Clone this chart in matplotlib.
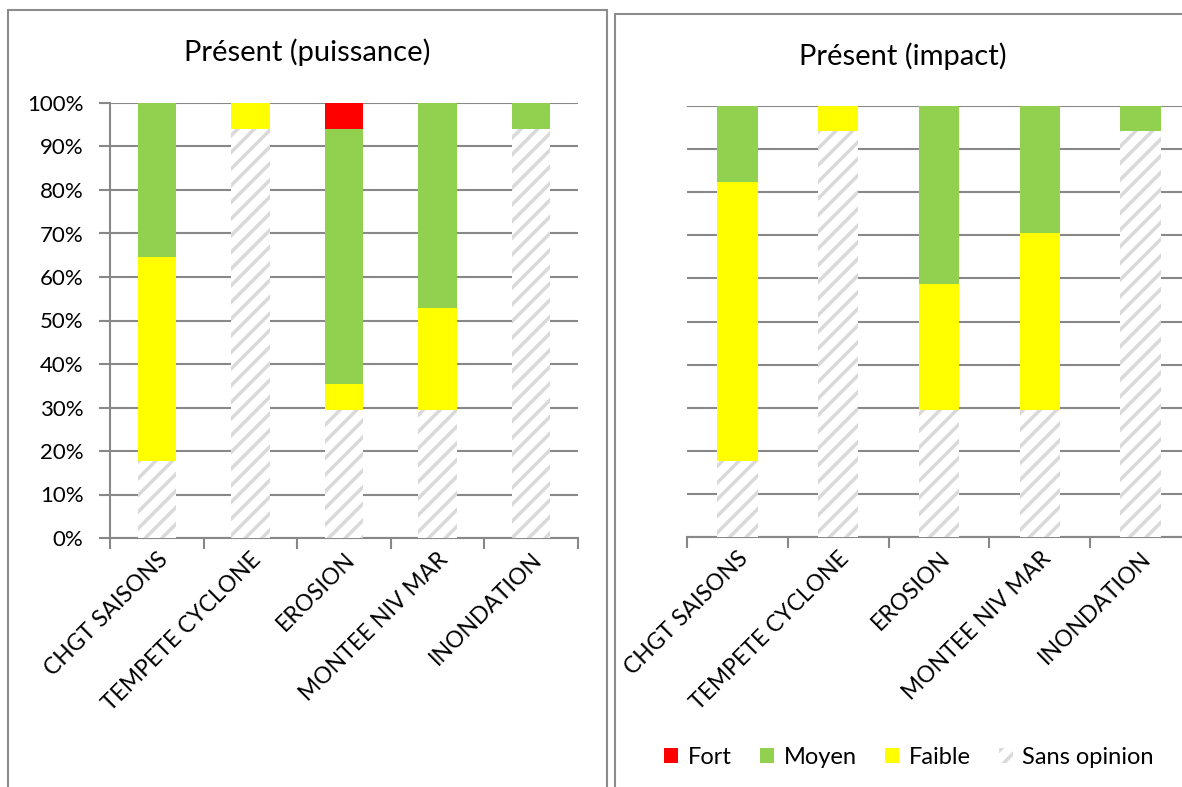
import matplotlib
matplotlib.use("Agg")
import matplotlib.pyplot as plt
from matplotlib.patches import Rectangle, Patch
import numpy as np

plt.rcParams['font.family'] = ['Lato', 'DejaVu Sans']
plt.rcParams['hatch.color'] = '#d9d9d9'
plt.rcParams['hatch.linewidth'] = 2.5

categories = ["CHGT SAISONS", "TEMPETE CYCLONE", "EROSION", "MONTEE NIV MAR", "INONDATION"]

# Percentages per level (puissance)
puis_sans = [17.6, 94.1, 29.4, 29.4, 94.1]
puis_faible = [47.1, 5.9, 5.9, 23.5, 0.0]
puis_moyen = [35.3, 0.0, 58.8, 47.1, 5.9]
puis_fort = [0.0, 0.0, 5.9, 0.0, 0.0]

# Percentages per level (impact)
imp_sans = [17.6, 94.1, 29.4, 29.4, 94.1]
imp_faible = [64.7, 5.9, 29.4, 41.2, 0.0]
imp_moyen = [17.6, 0.0, 41.2, 29.4, 5.9]
imp_fort = [0.0, 0.0, 0.0, 0.0, 0.0]

C_FORT = '#ff0000'
C_MOYEN = '#92d050'
C_FAIBLE = '#ffff00'
GRID = '#888888'

W, H = 1182, 787
fig = plt.figure(figsize=(W / 100, H / 100), dpi=100)


def fx(px):
    return px / W


def fy(py):
    return 1 - py / H


# Panel frames
fig.patches.append(Rectangle((fx(8), fy(800)), fx(607) - fx(8), fy(10) - fy(800),
                             transform=fig.transFigure, fill=False, edgecolor='#8c8c8c', lw=1.5))
fig.patches.append(Rectangle((fx(615), fy(800)), fx(1200) - fx(615), fy(14) - fy(800),
                             transform=fig.transFigure, fill=False, edgecolor='#8c8c8c', lw=1.5))


def draw(ax, sans, faible, moyen, fort, width, show_y):
    x = np.arange(len(categories))
    sans = np.array(sans)
    faible = np.array(faible)
    moyen = np.array(moyen)
    fort = np.array(fort)
    ax.bar(x, sans, width, color='white', hatch='//', edgecolor='#d9d9d9', linewidth=0, zorder=3)
    ax.bar(x, faible, width, bottom=sans, color=C_FAIBLE, linewidth=0, zorder=3)
    ax.bar(x, moyen, width, bottom=sans + faible, color=C_MOYEN, linewidth=0, zorder=3)
    ax.bar(x, fort, width, bottom=sans + faible + moyen, color=C_FORT, linewidth=0, zorder=3)
    ax.set_xlim(-0.5, len(categories) - 0.5)
    ax.set_ylim(0, 100)
    ax.set_yticks(np.arange(0, 101, 10))
    ax.yaxis.grid(True, color=GRID, lw=1.5, zorder=0)
    ax.set_axisbelow(True)
    for s in ['top', 'right']:
        ax.spines[s].set_visible(False)
    ax.spines['bottom'].set_color(GRID)
    ax.spines['bottom'].set_linewidth(1.5)
    ax.set_xticks(np.arange(-0.5, len(categories), 1.0), minor=False)
    ax.set_xticklabels([])
    ax.set_xticks(x, minor=True)
    ax.set_xticklabels(categories, minor=True, rotation=45, ha='right', va='top',
                       rotation_mode='anchor', fontsize=16.5)
    ax.tick_params(axis='x', which='major', length=8, color=GRID, width=1.5, direction='out')
    ax.tick_params(axis='x', which='minor', length=0, pad=8)
    if show_y:
        ax.spines['left'].set_color(GRID)
        ax.spines['left'].set_linewidth(1.5)
        ax.set_yticklabels([f"{v}%" for v in range(0, 101, 10)], fontsize=16)
        ax.tick_params(axis='y', length=8, color=GRID, width=1.5, pad=11)
    else:
        ax.spines['left'].set_visible(False)
        ax.set_yticklabels([])
        ax.tick_params(axis='y', length=0)


ax1 = fig.add_axes([fx(110), fy(538), fx(578) - fx(110), fy(103) - fy(538)])
draw(ax1, puis_sans, puis_faible, puis_moyen, puis_fort, 0.41, True)

ax2 = fig.add_axes([fx(687), fy(537), fx(1191) - fx(687), fy(106) - fy(537)])
draw(ax2, imp_sans, imp_faible, imp_moyen, imp_fort, 0.40, False)

fig.text(fx(307), fy(52), "Présent (puissance)", ha='center', va='center', fontsize=21)
fig.text(fx(903), fy(56), "Présent (impact)", ha='center', va='center', fontsize=21)

handles = [Patch(facecolor=C_FORT, edgecolor='none'),
           Patch(facecolor=C_MOYEN, edgecolor='none'),
           Patch(facecolor=C_FAIBLE, edgecolor='none'),
           Patch(facecolor='white', hatch='//', edgecolor='#d9d9d9', linewidth=0)]
fig.legend(handles, ["Fort", "Moyen", "Faible", "Sans opinion"], loc='center',
           bbox_to_anchor=(fx(909), fy(757)), ncol=4, frameon=False, fontsize=17,
           handlelength=0.6, handleheight=0.6, handletextpad=0.4, columnspacing=1.2)

fig.savefig("out.png", dpi=100)
